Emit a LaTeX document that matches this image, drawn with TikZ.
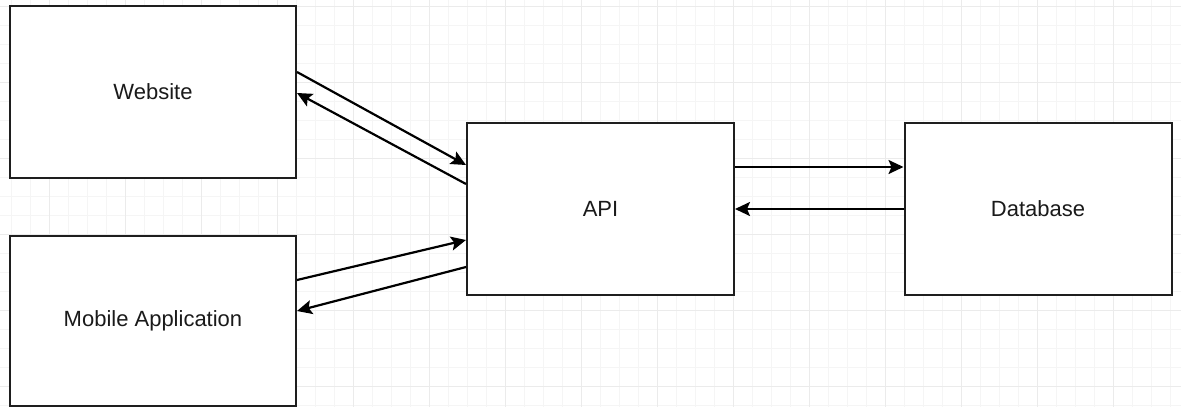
\documentclass[tikz,border=0pt]{standalone}
\usepackage{fontspec}
\setmainfont{Liberation Sans}
\usetikzlibrary{arrows.meta}
\definecolor{minorgrid}{HTML}{F5F5F5}
\definecolor{majorgrid}{HTML}{EBEBEB}
\definecolor{boxline}{HTML}{1E1E1E}
\definecolor{txt}{HTML}{1A1A1A}
\newcommand{\lowertext}[1]{\raisebox{-1.5pt}{#1}}
\tikzset{
  minorline/.style={draw=minorgrid, line width=1pt},
  majorline/.style={draw=majorgrid, line width=1pt},
  box/.style={draw=boxline, fill=white, line width=2pt, inner sep=0pt,
    font=\fontsize{22}{26}\selectfont, text=txt},
  conn/.style={draw=black, line width=2.2pt,
    -{Stealth[length=15pt,width=14pt,inset=3pt]}}
}
\begin{document}
\begin{tikzpicture}[x=1pt,y=-1pt]
\useasboundingbox (0,0) rectangle (1181,407);
\fill[white] (0,0) rectangle (1181,407);
% grid
\foreach \x in {11,30,...,1181} \draw[minorline] (\x,0) -- (\x,407);
\foreach \y in {6,25,...,407} \draw[minorline] (0,\y) -- (1181,\y);
\foreach \x in {49,125,...,1181} \draw[majorline] (\x,0) -- (\x,407);
\foreach \y in {6,82,...,407} \draw[majorline] (0,\y) -- (1181,\y);
% boxes
\node[box, minimum width=286pt, minimum height=172pt] (web) at (153,92) {\lowertext{Website}};
\node[box, minimum width=286pt, minimum height=170pt] (mob) at (153,321) {\lowertext{Mobile Application}};
\node[box, minimum width=267pt, minimum height=172pt] (api) at (600.5,209) {\lowertext{API}};
\node[box, minimum width=267pt, minimum height=172pt] (db) at (1038,209) {\lowertext{Database}};
% connectors
\draw[conn] ([yshift=20pt]web.east) -- ([yshift=44pt]api.west);
\draw[conn] ([yshift=25pt]api.west) -- ([yshift=-1pt]web.east);
\draw[conn] ([yshift=41pt]mob.east) -- ([yshift=-31pt]api.west);
\draw[conn] ([yshift=-58pt]api.west) -- ([yshift=10pt]mob.east);
\draw[conn] ([yshift=42pt]api.east) -- ([yshift=42pt]db.west);
\draw[conn] (db.west) -- (api.east);
\end{tikzpicture}
\end{document}
